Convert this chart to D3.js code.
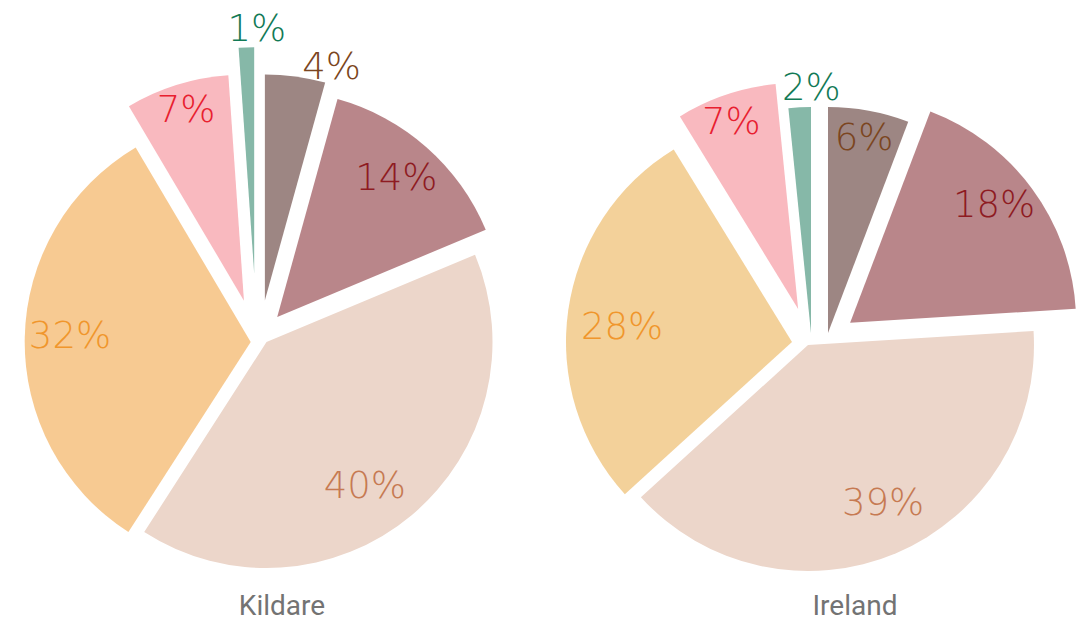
<!DOCTYPE html>
<html>
<head>
<meta charset="utf-8">
<script src="https://cdn.jsdelivr.net/npm/d3@7"></script>
<style>
  html, body { margin: 0; padding: 0; background: #ffffff; }
  svg { display: block; }
</style>
</head>
<body>
<svg id="chart" width="1087" height="621"></svg>
<script>
// ---------------- data ----------------
const regions = ["Kildare", "Ireland"];
const categories = ["Category 1", "Category 2", "Category 3", "Category 4", "Category 5", "Category 6"];
const kildareValues = [4.3, 14.4, 40.4, 32.4, 7.4, 1.1];
const irelandValues = [5.8, 18.3, 39.4, 28.1, 7.2, 1.6];

// ---------------- style ----------------
const kildareColors = ["#9d8683", "#b9868a", "#ecd6ca", "#f7ca92", "#f9b9bf", "#86b8a8"];
const irelandColors = ["#9d8683", "#b9868a", "#ecd6ca", "#f3d19a", "#f9b9bf", "#86b8a8"];
const labelColors   = ["#7b4520", "#8e1b22", "#c67a52", "#f0962c", "#e8202f", "#127a56"];

// slice explode (distance in px, direction in degrees clockwise from 12 o'clock)
const kildareExplode    = [42, 31, 7.5, 8.3, 44, 69];
const kildareExplodeDir = [8, 36, 90, 270, 340, 356];
const irelandExplode    = [22.8, 47.2, 3.2, 15, 34.2, 9.8];
const irelandExplodeDir = [67, 66, 162, 270, 345, 24];

// label placement relative to each slice's tip
const kildareLabelDist = [244, 184.5, 172.8, 180.9, 200.5, 246];
const kildareLabelDir  = [15.9, 40.2, 145.3, 272.4, 343.2, 0.6];
const irelandLabelDist = [200.3, 187.1, 173.1, 170.8, 200.5, 247];
const irelandLabelDir  = [10.4, 50.3, 154.3, 275.7, 340.5, 0.1];

const W = 1087, H = 621;
const radius = 226;
const centersX = [259, 807];
const centerY = 342;
const titleOffset = [23, 48];
const titleY = 615;
const pctFont = 37;

const pies = [
  { name: regions[0], values: kildareValues, colors: kildareColors,
    explode: kildareExplode, explodeDir: kildareExplodeDir,
    labelDist: kildareLabelDist, labelDir: kildareLabelDir },
  { name: regions[1], values: irelandValues, colors: irelandColors,
    explode: irelandExplode, explodeDir: irelandExplodeDir,
    labelDist: irelandLabelDist, labelDir: irelandLabelDir }
];

const svg = d3.select("#chart");
const pie = d3.pie().sort(null).value(d => d.value);
const arc = d3.arc().innerRadius(0).outerRadius(radius);
const unit = deg => {
  const r = deg * Math.PI / 180;
  return [Math.sin(r), -Math.cos(r)];
};
const fmt = v => Math.round(v) + "%";

pies.forEach((p, pi) => {
  const rows = categories.map((c, i) => ({ category: c, value: p.values[i], idx: i }));
  const arcs = pie(rows);
  const g = svg.append("g")
    .attr("transform", `translate(${centersX[pi]},${centerY})`);

  const slices = g.selectAll("g.slice")
    .data(arcs)
    .join("g")
    .attr("class", "slice")
    .attr("transform", d => {
      const u = unit(p.explodeDir[d.index]);
      const e = p.explode[d.index];
      return `translate(${u[0] * e},${u[1] * e})`;
    });

  slices.append("path")
    .attr("d", arc)
    .attr("fill", d => p.colors[d.index]);

  slices.append("text")
    .attr("x", d => unit(p.labelDir[d.index])[0] * p.labelDist[d.index])
    .attr("y", d => unit(p.labelDir[d.index])[1] * p.labelDist[d.index] + pctFont * 0.37)
    .attr("text-anchor", "middle")
    .attr("font-family", "'DejaVu Sans', sans-serif")
    .attr("font-weight", 200)
    .attr("font-size", pctFont)
    .attr("fill", d => labelColors[d.index])
    .text(d => fmt(d.data.value));

  svg.append("text")
    .attr("x", centersX[pi] + titleOffset[pi])
    .attr("y", titleY)
    .attr("text-anchor", "middle")
    .attr("font-family", "Roboto, sans-serif")
    .attr("font-size", 28)
    .attr("fill", "#737373")
    .text(p.name);
});
</script>
</body>
</html>
